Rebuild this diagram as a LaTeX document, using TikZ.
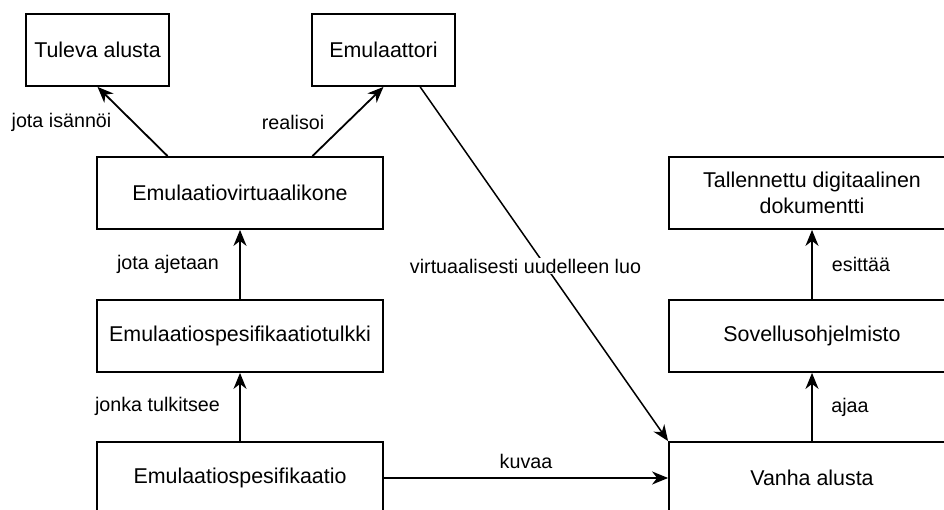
\documentclass[tikz,border=0pt]{standalone}
\usepackage{fontspec}
\setmainfont{Liberation Sans}
\usetikzlibrary{arrows.meta}
\begin{document}
\begin{tikzpicture}[x=1pt,y=-1pt,
  box/.style={draw=black,line width=1.8pt,fill=white,minimum height=72pt,inner sep=0pt,align=center,
    font=\fontsize{21.4pt}{25.5pt}\selectfont},
  smallbox/.style={box,minimum width=143pt},
  widebox/.style={box,minimum width=286pt},
  conn/.style={line width=1.8pt,-{Stealth[length=16pt,width=13pt,inset=5pt]}},
  thinconn/.style={conn,line width=1.5pt},
  lbl/.style={inner sep=1pt,font=\fontsize{19.7pt}{23pt}\selectfont}]
\useasboundingbox (0,0) rectangle (944,510);
% upper boxes
\node[smallbox] (tuleva) at (97.5,50) {Tuleva alusta};
\node[smallbox] (emul) at (383.5,50) {Emulaattori};
% left column
\node[widebox] (evk) at (240,193) {Emulaatiovirtuaalikone};
\node[widebox] (tulkki) at (240,336) {Emulaatiospesifikaatiotulkki};
\node[widebox] (spec) at (240,478) {Emulaatiospesifikaatio};
% right column
\node[widebox] (tall) at (812,193) {Tallennettu digitaalinen\\dokumentti};
\node[widebox] (sov) at (812,336) {Sovellusohjelmisto};
\node[widebox] (vanha) at (812,478) {Vanha alusta};
% connectors
\draw[conn] ([xshift=71.5pt]evk.north west) -- (tuleva.south);
\draw[conn] ([xshift=-71.5pt]evk.north east) -- (emul.south);
\draw[conn] (tulkki) -- (evk);
\draw[conn] (spec) -- (tulkki);
\draw[conn] (spec) -- (vanha);
\draw[conn] (vanha) -- (sov);
\draw[conn] (sov) -- (tall);
\draw[thinconn] ([xshift=-35.75pt]emul.south east) -- (vanha.north west);
% labels
\node[lbl] (l1) at (61.5,122) {jota isännöi};
\node[lbl] (l2) at (293,122) {realisoi};
\node[lbl] (l3) at (168,264) {jota ajetaan};
\node[lbl] (l4) at (157.5,406) {jonka tulkitsee};
\node[lbl,fill=white] (l5) at (525.5,266) {virtuaalisesti uudelleen luo};
\node[lbl] (l6) at (526,461) {kuvaa};
\node[lbl] (l7) at (861,264) {esittää};
\node[lbl] (l8) at (850,407) {ajaa};
\end{tikzpicture}
\end{document}
